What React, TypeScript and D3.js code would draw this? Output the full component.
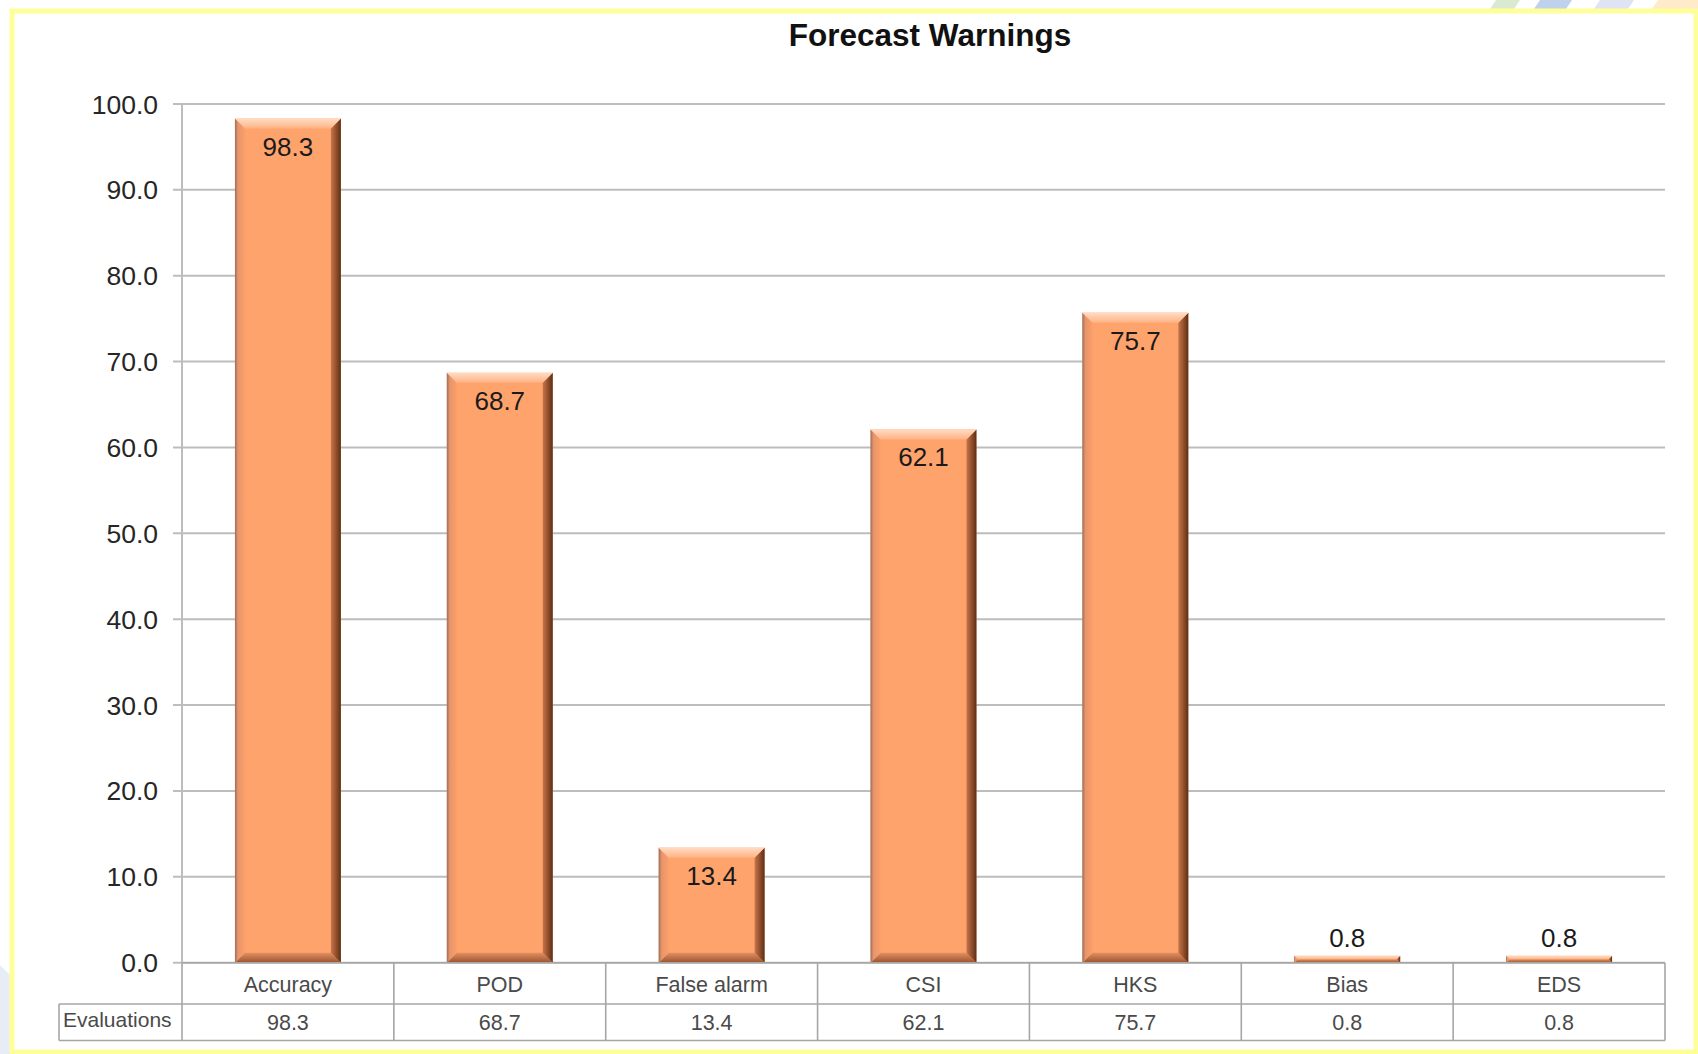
import React from "react";
import * as d3 from "d3";

// Forecast warning evaluation scores
const categories = ["Accuracy", "POD", "False alarm", "CSI", "HKS", "Bias", "EDS"];
const values = [98.3, 68.7, 13.4, 62.1, 75.7, 0.8, 0.8];
const yTicks = [0, 10, 20, 30, 40, 50, 60, 70, 80, 90, 100];
const seriesName = "Evaluations";
const title = "Forecast Warnings";

const W = 1698;
const H = 1054;
const plotLeft = 182;
const plotRight = 1665;
const plotTop = 104;
const plotBottom = 962.7;
const row1Bottom = 1004;
const row2Bottom = 1040.5;
const legendLeft = 59;

const FONT = "'Liberation Sans', Arial, sans-serif";
const BAR = "#FFA36D";

export default function App() {
  const x = d3
    .scaleBand<string>()
    .domain(categories)
    .range([plotLeft, plotRight])
    .paddingInner(0.5)
    .paddingOuter(0.25);
  const y = d3.scaleLinear().domain([0, 100]).range([plotBottom, plotTop]);
  const step = x.step();
  const edges = categories.map((_, i) => plotLeft + i * step).concat([plotRight]);

  return (
    <svg
      width={W}
      height={H}
      viewBox={`0 0 ${W} ${H}`}
      style={{ position: "absolute", left: 0, top: 0, background: "#fff" }}
    >
      <defs>
        <linearGradient id="bevelTop" x1="0" y1="0" x2="0" y2="1">
          <stop offset="0" stopColor="#FFDCC4" />
          <stop offset="1" stopColor="#FFB283" />
        </linearGradient>
        <linearGradient id="bevelRight" x1="0" y1="0" x2="1" y2="0">
          <stop offset="0" stopColor="#C9754A" />
          <stop offset="1" stopColor="#5E2E14" />
        </linearGradient>
        <linearGradient id="bevelLeft" x1="0" y1="0" x2="1" y2="0">
          <stop offset="0" stopColor="#977060" />
          <stop offset="0.3" stopColor="#E8946A" />
          <stop offset="1" stopColor="#FB9F6A" />
        </linearGradient>
        <linearGradient id="bevelBottom" x1="0" y1="0" x2="0" y2="1">
          <stop offset="0" stopColor="#E38F60" />
          <stop offset="1" stopColor="#9A5430" />
        </linearGradient>
      </defs>

      {/* slide backdrop accents */}
      <g opacity={0.9}>
        <polygon points="1496,0 1520,0 1512,12 1488,12" fill="#D6E8CC" />
        <polygon points="1540,0 1572,0 1564,12 1532,12" fill="#BACDEB" />
        <polygon points="1600,0 1634,0 1626,12 1592,12" fill="#DCE2F4" />
        <polygon points="1658,0 1698,0 1698,12 1650,12" fill="#FFE9C4" />
        <polygon points="0,965 10,975 10,1054 0,1054" fill="#E4EAF5" />
      </g>
      <rect x={12} y={11} width={1684} height={1041} fill="none" stroke="#FFFF99" strokeWidth={5} />

      <text
        x={930}
        y={46}
        textAnchor="middle"
        fontFamily={FONT}
        fontWeight="bold"
        fontSize={31.5}
        fill="#111"
      >
        {title}
      </text>

      {/* gridlines and y axis */}
      {yTicks.map((t) => (
        <g key={t}>
          <line x1={173} x2={plotRight} y1={y(t)} y2={y(t)} stroke="#BDBDBD" strokeWidth={2} />
          <text
            x={158}
            y={y(t) + 9.5}
            textAnchor="end"
            fontFamily={FONT}
            fontSize={26.5}
            fill="#262626"
          >
            {t.toFixed(1)}
          </text>
        </g>
      ))}
      <line x1={plotLeft} x2={plotLeft} y1={plotTop} y2={plotBottom} stroke="#BDBDBD" strokeWidth={2} />

      {/* bevelled bars */}
      {categories.map((c, i) => {
        const v = values[i];
        const x0 = x(c)!;
        const x1 = x0 + x.bandwidth();
        const y0 = y(v);
        const y1 = y(0);
        const h = y1 - y0;
        const b = Math.min(10, h / 2);
        const inside = h > 45;
        return (
          <g key={c}>
            <rect x={x0} y={y0} width={x1 - x0} height={h} fill={BAR} />
            <polygon
              points={`${x0},${y1} ${x1},${y1} ${x1 - b},${y1 - b} ${x0 + b},${y1 - b}`}
              fill="url(#bevelBottom)"
            />
            <polygon
              points={`${x0},${y0} ${x0 + b},${y0 + b} ${x0 + b},${y1 - b} ${x0},${y1}`}
              fill="url(#bevelLeft)"
            />
            <polygon
              points={`${x1},${y0} ${x1},${y1} ${x1 - b},${y1 - b} ${x1 - b},${y0 + b}`}
              fill="url(#bevelRight)"
            />
            <polygon
              points={`${x0},${y0} ${x1},${y0} ${x1 - b},${y0 + b} ${x0 + b},${y0 + b}`}
              fill="url(#bevelTop)"
            />
            <text
              x={x0 + x.bandwidth() / 2}
              y={inside ? y0 + 37 : y0 - 9}
              textAnchor="middle"
              fontFamily={FONT}
              fontSize={26}
              fill="#1a1a1a"
            >
              {v.toFixed(1)}
            </text>
          </g>
        );
      })}

      {/* data table beneath the axis */}
      <g stroke="#A6A6A6" strokeWidth={1.6} fill="none">
        <line x1={plotLeft} x2={plotRight} y1={plotBottom} y2={plotBottom} />
        <line x1={legendLeft} x2={plotRight} y1={row1Bottom} y2={row1Bottom} />
        <line x1={legendLeft} x2={plotRight} y1={row2Bottom} y2={row2Bottom} />
        <line x1={legendLeft} x2={legendLeft} y1={row1Bottom} y2={row2Bottom} />
        {edges.map((e, i) => (
          <line key={i} x1={e} x2={e} y1={plotBottom} y2={row2Bottom} />
        ))}
      </g>
      <text x={63} y={1027} fontFamily={FONT} fontSize={21} fill="#4a4a4a">
        {seriesName}
      </text>
      {categories.map((c, i) => (
        <g key={c} fontFamily={FONT} fontSize={21.5} fill="#4a4a4a" textAnchor="middle">
          <text x={edges[i] + step / 2} y={992}>
            {c}
          </text>
          <text x={edges[i] + step / 2} y={1030}>
            {values[i].toFixed(1)}
          </text>
        </g>
      ))}
    </svg>
  );
}
